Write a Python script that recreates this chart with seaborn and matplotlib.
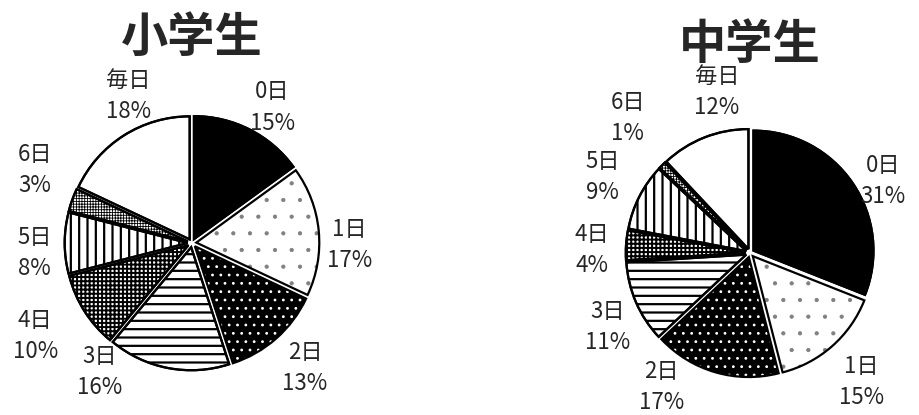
import numpy as np
import seaborn as sns
from matplotlib import pyplot as plt

sns.set_style("white")
plt.rcParams['font.family'] = ['Noto Sans CJK JP', 'DejaVu Sans']
plt.rcParams['hatch.linewidth'] = 1.5

categories = ['0日', '1日', '2日', '3日', '4日', '5日', '6日', '毎日']
elementary = [15, 17, 13, 16, 10, 8, 3, 18]
junior = [31, 15, 17, 11, 4, 9, 1, 12]
titles = ['小学生', '中学生']

# 塗りつぶし(白黒の模様)
faces = ['black', 'white', 'black', 'white', 'white', 'white', 'white', 'white']
hatches = [None, '.', '..', '--', '++++', '||', '++++++', None]
hatch_cols = ['black', 'grey', 'white', 'black', 'black', 'black', 'black', 'black']
hatch_lws = [1.5, 0.6, 0.8, 1.6, 1.4, 1.6, 0.6, 1.5]

# ラベル位置: 半径に対する距離と、扇形の中心角からのずれ(度)
dist_left = [1.28, 1.28, 1.37, 1.29, 1.48, 1.28, 1.41, 1.30]
shift_left = [-3.6, -6, 0.7, -24.7, -1.8, 3.6, -5, -8.9]
dist_right = [1.26, 1.42, 1.34, 1.34, 1.32, 1.38, 1.52, 1.37]
shift_right = [-5.8, -0.4, -17.1, 4, 2.5, -0.3, -2.9, -10]


def draw_pie(fig, cx, cy, r, values, title, dist, shift, title_y):
    W, H = 919, 415
    s = 1.7
    ax = fig.add_axes([(cx - s * r) / W, (H - cy - s * r) / H, 2 * s * r / W, 2 * s * r / H])
    wedges, _ = ax.pie(values, startangle=90, counterclock=False,
                       explode=[0.035] * len(values),
                       wedgeprops=dict(edgecolor='black', linewidth=1.6))
    for w, fc, h, hc, hl in zip(wedges, faces, hatches, hatch_cols, hatch_lws):
        w.set_facecolor(fc)
        if h:
            w.set_hatch(h)
            if hasattr(w, 'set_hatch_linewidth'):
                w.set_hatch_linewidth(hl)
            if hc != 'black':
                # 模様の色は縁の色から取られる
                w.set_edgecolor(hc)
                w.set_linewidth(0)
    # 模様の色を変えた扇形に黒い縁を付け直す
    ax.pie(values, startangle=90, counterclock=False,
           explode=[0.035] * len(values),
           wedgeprops=dict(edgecolor='black', linewidth=1.6, fill=False))
    for w, cat, v, d, sh in zip(wedges, categories, values, dist, shift):
        ang = np.deg2rad((w.theta1 + w.theta2) / 2 + sh)
        ax.text(d * np.cos(ang), d * np.sin(ang), f'{cat}\n{v}%',
                ha='center', va='center', fontsize=16, linespacing=1.45)
    ax.set_xlim(-s, s)
    ax.set_ylim(-s, s)
    ax.set_aspect('equal')
    ax.axis('off')
    fig.text(cx / W, 1 - title_y / H, title, ha='center', va='center',
             fontsize=34, fontweight='bold')


fig = plt.figure(figsize=(9.19, 4.15), dpi=100)
draw_pie(fig, 192, 243, 123, elementary, titles[0], dist_left, shift_left, 38)
draw_pie(fig, 750, 253, 120, junior, titles[1], dist_right, shift_right, 45)
plt.savefig('out.png', dpi=100)
